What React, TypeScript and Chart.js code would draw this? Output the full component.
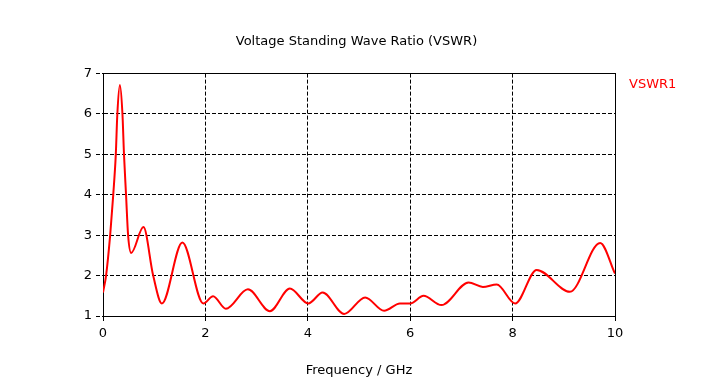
import { useEffect, useRef } from "react";
import { Chart, registerables } from "chart.js";

Chart.register(...registerables);

const chartTitle = "Voltage Standing Wave Ratio (VSWR)";
const xAxisTitle = "Frequency / GHz";
const seriesName = "VSWR1";

const frequencyGHz = [
  0, 0.06, 0.14, 0.2, 0.25, 0.28, 0.33, 0.38, 0.41, 0.45, 0.49, 0.55, 0.79, 0.98, 1.15, 1.55,
  1.96, 2.15, 2.4, 2.83, 3.26, 3.65, 4.01, 4.29, 4.71, 5.12, 5.49, 5.8, 6.0, 6.26, 6.61,
  7.14, 7.42, 7.69, 8.05, 8.47, 9.12, 9.71, 10.0,
];
const vswr1 = [
  1.58, 2.0, 3.0, 4.0, 5.0, 6.0, 6.72, 6.0, 5.0, 4.0, 3.0, 2.56, 3.2, 2.0, 1.31, 2.82,
  1.31, 1.49, 1.18, 1.66, 1.12, 1.68, 1.31, 1.58, 1.05, 1.46, 1.13, 1.31, 1.31, 1.5, 1.27,
  1.83, 1.72, 1.78, 1.31, 2.14, 1.6, 2.81, 2.05,
];

const xMin = 0;
const xMax = 10;
const xStep = 2;
const yMin = 1;
const yMax = 7;
const yStep = 1;

const FONT = "'DejaVu Sans', sans-serif";

const align = (p: number) => Math.round(p - 0.5) + 0.5;

export default function App() {
  const canvasRef = useRef<HTMLCanvasElement>(null);

  useEffect(() => {
    if (!canvasRef.current) return;

    const boxPlugin = {
      id: "plotBox",
      beforeDatasetsDraw(chart: any) {
        const { ctx } = chart;
        const xs = chart.scales.x;
        const ys = chart.scales.y;
        const l = align(xs.getPixelForValue(xMin));
        const r = align(xs.getPixelForValue(xMax));
        const t = align(ys.getPixelForValue(yMax));
        const b = align(ys.getPixelForValue(yMin));
        ctx.save();
        ctx.strokeStyle = "#000";
        ctx.lineWidth = 1;
        ctx.setLineDash([]);
        ctx.strokeRect(l, t, r - l, b - t);
        ctx.restore();
      },
    };

    const legendPlugin = {
      id: "seriesLabel",
      afterDraw(chart: any) {
        const { ctx, chartArea: a } = chart;
        ctx.save();
        ctx.fillStyle = "#ff0000";
        ctx.font = `13px ${FONT}`;
        ctx.textAlign = "left";
        ctx.textBaseline = "middle";
        ctx.fillText(seriesName, a.right + 14, a.top + 11);
        ctx.restore();
      },
    };

    const chart = new Chart(canvasRef.current, {
      type: "line",
      data: {
        datasets: [
          {
            label: seriesName,
            data: frequencyGHz.map((f, i) => ({ x: f, y: vswr1[i] })),
            borderColor: "#ff0000",
            backgroundColor: "#ff0000",
            borderWidth: 2,
            pointRadius: 0,
            cubicInterpolationMode: "monotone",
            fill: false,
          },
        ],
      },
      options: {
        animation: false,
        responsive: true,
        maintainAspectRatio: false,
        layout: { padding: 0 },
        plugins: {
          legend: { display: false },
          tooltip: { enabled: false },
          title: {
            display: true,
            text: chartTitle,
            color: "#000",
            font: { family: FONT, size: 13, weight: "normal" },
            padding: { top: 34, bottom: 24 },
          },
        },
        scales: {
          x: {
            type: "linear",
            min: xMin,
            max: xMax,
            ticks: {
              stepSize: xStep,
              color: "#000",
              font: { family: FONT, size: 13 },
              padding: 3,
              maxRotation: 0,
            },
            grid: {
              color: "#000",
              lineWidth: 1,
              drawTicks: true,
              tickLength: 7,
              tickColor: "#000",
              tickBorderDash: [4, 2],
            },
            border: { display: true, color: "#000", width: 1, dash: [4, 2] },
            title: {
              display: true,
              text: xAxisTitle,
              color: "#000",
              font: { family: FONT, size: 13 },
              padding: { top: 0, bottom: 11 },
            },
            afterFit(scale: any) {
              scale.height = 73;
            },
          },
          y: {
            type: "linear",
            min: yMin,
            max: yMax,
            ticks: {
              stepSize: yStep,
              color: "#000",
              font: { family: FONT, size: 13 },
              padding: 4,
            },
            grid: {
              color: "#000",
              lineWidth: 1,
              drawTicks: true,
              tickLength: 7,
              tickColor: "#000",
              tickBorderDash: [4, 2],
            },
            border: { display: true, color: "#000", width: 1, dash: [4, 2] },
            afterFit(scale: any) {
              scale.width = 103;
            },
          },
          yRight: {
            type: "linear",
            position: "right",
            min: yMin,
            max: yMax,
            display: true,
            ticks: { display: false },
            grid: { display: false, drawTicks: false },
            border: { display: false },
            afterFit(scale: any) {
              scale.width = 98;
            },
          },
        },
      },
      plugins: [boxPlugin, legendPlugin],
    });

    return () => chart.destroy();
  }, []);

  return (
    <div style={{ position: "absolute", left: 0, top: 0, width: 713, height: 389, background: "#fff" }}>
      <canvas ref={canvasRef} />
    </div>
  );
}
